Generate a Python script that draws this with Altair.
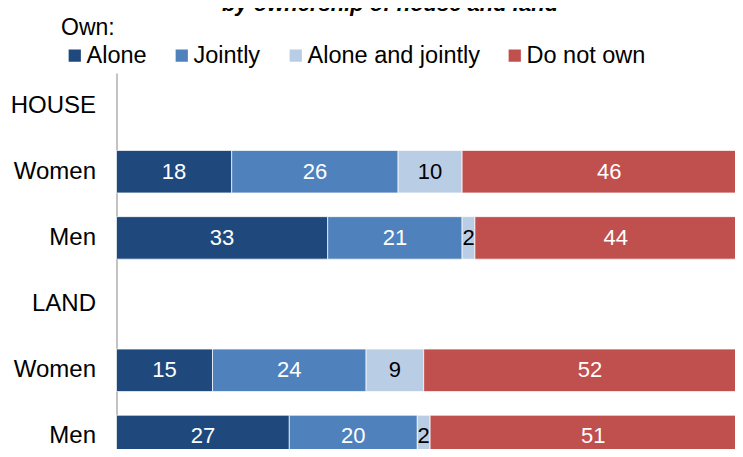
import altair as alt
import pandas as pd

# ---- data ----
row_keys = ["HOUSE", "HOUSE|Women", "HOUSE|Men", "LAND", "LAND|Women", "LAND|Men"]
bar_rows = ["HOUSE|Women", "HOUSE|Men", "LAND|Women", "LAND|Men"]
categories = ["Alone", "Jointly", "Alone and jointly", "Do not own"]
alone = [18, 33, 15, 27]
jointly = [26, 21, 24, 20]
alone_and_jointly = [10, 2, 9, 2]
do_not_own = [46, 44, 52, 51]
colors = ["#1F497D", "#4F81BD", "#B9CDE5", "#C0504D"]
label_colors = ["white", "white", "black", "white"]
title_text = "by ownership of house and land"
legend_title = "Own:"

series = [alone, jointly, alone_and_jointly, do_not_own]
records = []
for ci, (cat, vals) in enumerate(zip(categories, series)):
    for r, v in zip(bar_rows, vals):
        records.append({"row": r, "cat": cat, "order": ci, "value": v,
                        "tcol": label_colors[ci]})
df = pd.DataFrame(records)

FONT = "Liberation Sans"

y_enc = alt.Y(
    "row:N",
    scale=alt.Scale(domain=row_keys, range=[0, 396], paddingInner=0.358, paddingOuter=0.17),
    axis=alt.Axis(
        title=None, ticks=False, grid=False, domainColor="#868686",
        labelFontSize=24, labelFont=FONT, labelColor="black", labelPadding=21,
        labelExpr="indexof(datum.value, '|') >= 0 ? slice(datum.value, indexof(datum.value, '|') + 1) : datum.value",
    ),
)

base = alt.Chart(df).transform_stack(
    stack="value", groupby=["row"], as_=["x0", "x1"],
    sort=[alt.SortField("order", order="ascending")],
)

bars = base.mark_bar(stroke="white", strokeWidth=0.7).encode(
    x=alt.X("x0:Q", scale=alt.Scale(domain=[0, 100], range=[0, 640]), axis=None),
    x2="x1:Q",
    y=y_enc,
    color=alt.Color(
        "cat:N",
        scale=alt.Scale(domain=categories, range=colors),
        sort=categories,
        legend=alt.Legend(
            orient="none", legendX=-53.5, legendY=-29.5, direction="horizontal",
            title=None, labelFontSize=23.5, labelFont=FONT, labelColor="black",
            labelLimit=400,
            symbolType="square", symbolSize=150, symbolStrokeWidth=0,
            symbolOpacity=1, labelOffset=0, columnPadding=23,
        ),
    ),
)

labels = base.transform_calculate(mid="(datum.x0 + datum.x1) / 2").mark_text(
    fontSize=22, font=FONT, baseline="middle", align="center"
).encode(
    x=alt.X("mid:Q"),
    y=alt.Y("row:N"),
    text=alt.Text("value:Q"),
    color=alt.Color("tcol:N", scale=None),
)

own = alt.Chart(alt.Data(values=[{"t": legend_title}])).mark_text(
    fontSize=23, font=FONT, align="left", baseline="alphabetic", color="black"
).encode(x=alt.value(-55.5), y=alt.value(-38), text="t:N")

title = alt.Chart(alt.Data(values=[{"t": title_text}])).mark_text(
    fontSize=22, font=FONT, fontStyle="italic", fontWeight="bold",
    align="center", baseline="alphabetic", color="black"
).encode(x=alt.value(273.5), y=alt.value(-62), text="t:N")

chart = alt.layer(bars, labels, own, title).properties(
    width=618, height=376,
    autosize=alt.AutoSizeParams(type="none"),
    padding={"left": 108.5, "top": 65, "right": 0, "bottom": 0},
).configure_view(stroke=None)

chart.save("out.html", embed_options={"renderer": "svg", "actions": False})
